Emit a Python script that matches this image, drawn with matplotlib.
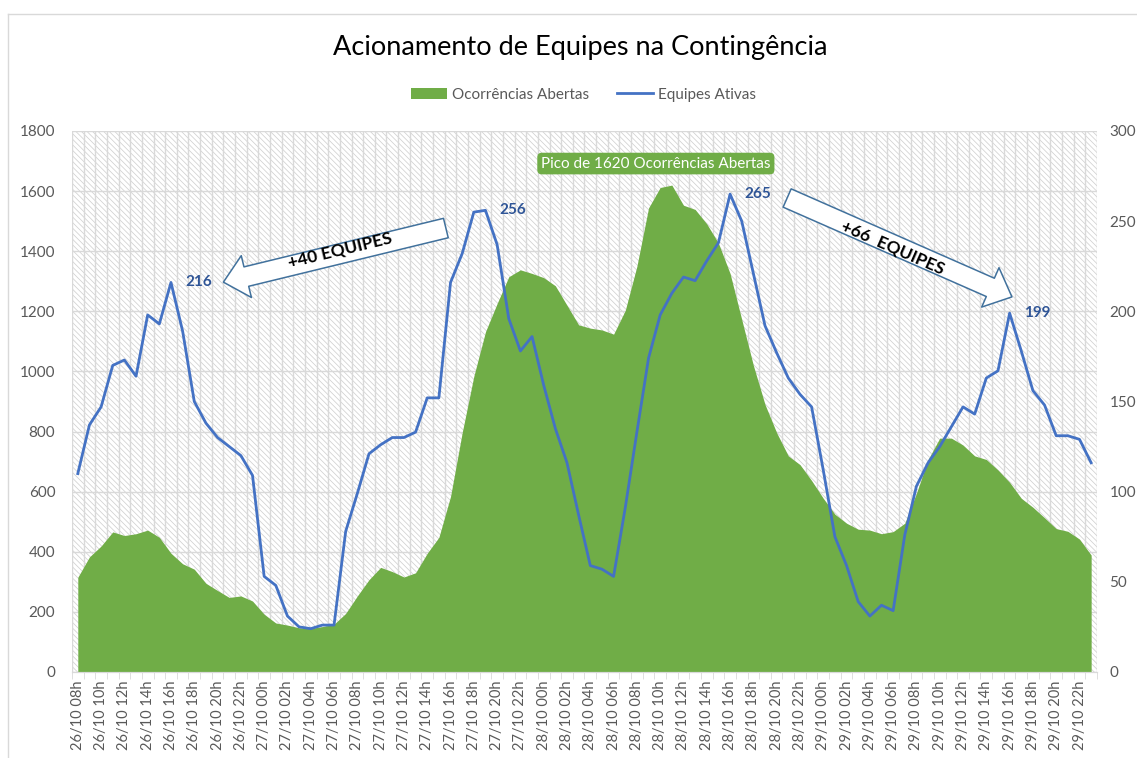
import numpy as np
import pandas as pd
import matplotlib
matplotlib.use("Agg")
import matplotlib.pyplot as plt
from matplotlib.patches import Rectangle, Patch, FancyArrowPatch
from matplotlib.lines import Line2D

plt.rcParams['font.family'] = ['Lato', 'DejaVu Sans']
plt.rcParams['hatch.linewidth'] = 0.55
plt.rcParams['hatch.color'] = '#d0d0d0'

# hourly categories 26/10 08h .. 29/10 23h
horas = pd.date_range('2023-10-26 08:00', '2023-10-29 23:00', freq='h')
categorias = [h.strftime('%d/%m %Hh') for h in horas]

# Ocorrencias abertas (eixo esquerdo)
ocorrencias = [
    315, 383, 419, 466, 454, 460, 472, 448, 395, 360, 342, 295, 271, 248, 253, 236,
    192, 163, 156, 147, 145, 151, 159, 195, 253, 307, 348, 334, 316, 330, 395, 448,
    584, 796, 984, 1132, 1226, 1315, 1338, 1326, 1312, 1285, 1220, 1155, 1144, 1138,
    1124, 1203, 1350, 1544, 1612, 1620, 1553, 1539, 1491, 1427, 1326, 1173, 1020, 890,
    796, 719, 690, 637, 578, 525, 495, 475, 472, 460, 467, 495, 595, 707, 778, 778,
    755, 719, 707, 672, 631, 578, 548, 513, 477, 468, 442, 389,
]

# Equipes ativas (eixo direito)
equipes = [
    110, 137, 147, 170, 173, 164, 198, 193, 216, 189, 150, 138, 130, 125, 120, 109,
    53, 48, 31, 25, 24, 26, 26, 78, 99, 121, 126, 130, 130, 133, 152, 152,
    216, 232, 255, 256, 237, 196, 178, 186, 159, 135, 116, 87, 59, 57, 53, 91,
    133, 174, 198, 210, 219, 217, 228, 238, 265, 250, 221, 192, 177, 163, 154, 147,
    112, 75, 59, 39, 31, 37, 34, 76, 103, 116, 125, 136, 147, 143, 163, 167,
    199, 178, 156, 148, 131, 131, 129, 116,
]

destaques = [8, 35, 56, 80]  # indices with data labels

verde = '#70AD47'
azul = '#4472C4'
cinza = '#595959'

fig = plt.figure(figsize=(11.37, 7.58), dpi=100)
ax = fig.add_axes([0.0633, 0.1135, 0.9648 - 0.0633, 0.8272 - 0.1135])
ax2 = ax.twinx()

x = np.arange(len(categorias))

# hatched plot-area background
ax.add_patch(Rectangle((0, 0), 1, 1, transform=ax.transAxes, facecolor='white',
                       edgecolor='#d0d0d0', hatch='\\\\\\\\\\\\', linewidth=0, zorder=0.1))

ax.fill_between(x, ocorrencias, 0, color=verde, linewidth=0, zorder=2)
ax2.plot(x, equipes, color=azul, linewidth=2.0, zorder=3)

ax.set_xlim(-0.5, len(categorias) - 0.5)
ax.set_ylim(0, 1800)
ax2.set_ylim(0, 300)
ax.set_yticks(range(0, 1801, 200))
ax2.set_yticks(range(0, 301, 50))

ax.set_xticks(x[::2])
ax.set_xticklabels(categorias[::2], rotation=90, fontsize=10.5, color=cinza)
ax.set_xticks(np.arange(-0.5, len(categorias), 1), minor=True)
ax.tick_params(axis='x', which='major', length=0, pad=6)
ax.tick_params(axis='x', which='minor', length=5, color='#d9d9d9')
ax.tick_params(axis='y', length=0, labelsize=11, labelcolor=cinza, pad=12)
ax2.tick_params(axis='y', length=0, labelsize=11, labelcolor=cinza, pad=9)

ax.set_axisbelow(True)
ax.grid(True, axis='y', color='#d9d9d9', linewidth=1)
ax.grid(True, axis='x', which='minor', color='#d9d9d9', linewidth=1)

for a in (ax, ax2):
    for s in ('top', 'left', 'right'):
        a.spines[s].set_visible(False)
    a.spines['bottom'].set_color('#d9d9d9')

# data labels
for i in destaques:
    ax2.annotate(str(equipes[i]), (i, equipes[i]), xytext=(20, 0),
                 textcoords='offset points', ha='center', va='center',
                 fontsize=11, fontweight='bold', color='#2F5597', zorder=5)

# peak label
pico = int(np.argmax(ocorrencias))
ax.annotate(f'Pico de {ocorrencias[pico]} Ocorrências Abertas', (pico, ocorrencias[pico]),
            xytext=(-11.5, 15.5), textcoords='offset points', ha='center', va='center',
            fontsize=11, color='white', zorder=6,
            bbox=dict(boxstyle='round,pad=0.25,rounding_size=0.3', fc=verde, ec='none'))


def seta(ax, p0, p1, texto, texto_pos):
    arr = FancyArrowPatch(p0, p1, arrowstyle='simple,tail_width=0.72,head_width=1.55,head_length=0.85',
                          mutation_scale=20, facecolor='white', edgecolor='#41719C',
                          linewidth=1.1, zorder=6, shrinkA=0, shrinkB=0)
    ax.add_patch(arr)
    d0 = ax.transData.transform(p0)
    d1 = ax.transData.transform(p1)
    ang = np.degrees(np.arctan2(d1[1] - d0[1], d1[0] - d0[0]))
    if ang > 90 or ang < -90:
        ang += 180
    ax.text(texto_pos[0], texto_pos[1], texto, rotation=ang, rotation_mode='anchor',
            ha='center', va='center', fontsize=12.5, fontweight='bold', color='black', zorder=7)


seta(ax, (31.6, 1477), (12.5, 1297), '+40 EQUIPES', (22.5, 1404))
seta(ax, (60.9, 1577), (80.2, 1248), '+66  EQUIPES', (70.0, 1411))

fig.text(0.51, 0.9367, 'Acionamento de Equipes na Contingência', ha='center', va='center',
         fontsize=19.5, color='black')

handles = [Patch(facecolor=verde, edgecolor='none', label='Ocorrências Abertas'),
           Line2D([0], [0], color=azul, linewidth=2.0, label='Equipes Ativas')]
fig.legend(handles=handles, loc='center', bbox_to_anchor=(0.513, 0.875), ncol=2,
           frameon=False, fontsize=11, labelcolor=cinza, handlelength=2.4,
           handletextpad=0.3, columnspacing=1.8)

# chart border
fig.add_artist(Line2D([8 / 1137, 8 / 1137], [0, 1 - 14 / 758], transform=fig.transFigure,
                      color='#d9d9d9', linewidth=1))
fig.add_artist(Line2D([8 / 1137, 1], [1 - 14 / 758, 1 - 14 / 758], transform=fig.transFigure,
                      color='#d9d9d9', linewidth=1))

fig.savefig('out.png', dpi=100)
